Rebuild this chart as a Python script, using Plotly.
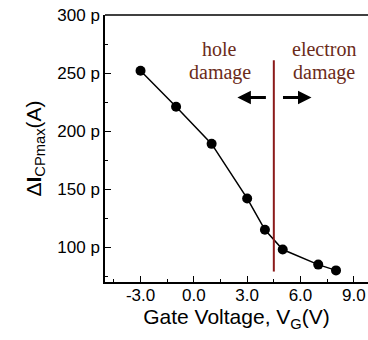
import plotly.graph_objects as go

gate_v = [-3, -1, 1, 3, 4, 5, 7, 8]
delta_i = [252, 221, 189, 142, 115, 98, 85, 80]  # pA
x_ticks = [-3, 0, 3, 6, 9]
x_labels = ["-3.0", "0.0", "3.0", "6.0", "9.0"]
y_ticks = [100, 150, 200, 250, 300]
y_labels = ["100 p", "150 p", "200 p", "250 p", "300 p"]
boundary_v = 4.5

fig = go.Figure()
fig.add_trace(go.Scatter(
    x=gate_v, y=delta_i, mode="lines+markers",
    line=dict(color="black", width=1.5),
    marker=dict(color="black", size=10),
    showlegend=False,
))

fig.add_shape(type="line", x0=boundary_v, x1=boundary_v, y0=79, y1=261,
              xref="x", yref="y", line=dict(color="#8b1a1a", width=2))

brown = "#6b2b1a"
serif = "Liberation Serif, Times New Roman, serif"
fig.add_annotation(x=1.45, y=270.5, text="hole", showarrow=False,
                   font=dict(family=serif, size=20, color=brown))
fig.add_annotation(x=1.45, y=250.5, text="damage", showarrow=False,
                   font=dict(family=serif, size=20, color=brown))
fig.add_annotation(x=7.35, y=270.5, text="electron", showarrow=False,
                   font=dict(family=serif, size=20, color=brown))
fig.add_annotation(x=7.35, y=250.5, text="damage", showarrow=False,
                   font=dict(family=serif, size=20, color=brown))
# arrows (head at x,y; tail offset in pixels)
fig.add_annotation(x=2.45, y=229, ax=30, ay=0, axref="pixel", ayref="pixel",
                   text="", showarrow=True, arrowhead=2, arrowsize=0.9,
                   arrowwidth=3, arrowcolor="black")
fig.add_annotation(x=6.62, y=229, ax=-30, ay=0, axref="pixel", ayref="pixel",
                   text="", showarrow=True, arrowhead=2, arrowsize=0.9,
                   arrowwidth=3, arrowcolor="black")

sans = "Liberation Sans, Arial, Helvetica, sans-serif"
fig.update_layout(
    width=368, height=340,
    margin=dict(l=105, r=0, t=15, b=58),
    plot_bgcolor="white", paper_bgcolor="white",
    font=dict(family=sans, color="black"),
    xaxis=dict(
        range=[-5, 9.8], tickmode="array", tickvals=x_ticks, ticktext=x_labels,
        ticks="inside", ticklen=6, tickwidth=1.3, tickcolor="black",
        minor=dict(dtick=1.5, tick0=-4.5, ticks="inside", ticklen=3, tickwidth=1, tickcolor="black"),
        showline=True, linecolor="black", linewidth=1.5, mirror=False,
        showgrid=False, zeroline=False,
        tickfont=dict(size=17, family=sans),
        ticklabelstandoff=-3,
        title=dict(text="Gate Voltage, V<sub>G</sub>(V)", font=dict(size=21, family=sans), standoff=4),
    ),
    yaxis=dict(
        range=[70, 300], tickmode="array", tickvals=y_ticks, ticktext=y_labels,
        ticks="inside", ticklen=6, tickwidth=1.3, tickcolor="black",
        minor=dict(dtick=25, tick0=0, ticks="inside", ticklen=3, tickwidth=1, tickcolor="black"),
        showline=True, linecolor="black", linewidth=1.5,
        showgrid=False, zeroline=False,
        tickfont=dict(size=17, family=sans),
        title=dict(text="Δ<b>I</b><sub>CPmax</sub>(A)", font=dict(size=21, family=sans), standoff=10),
    ),
)
fig.add_shape(type="line", xref="paper", yref="paper", x0=0, x1=1, y0=1, y1=1,
              line=dict(color="black", width=1.5))

fig.write_html("out.html")
